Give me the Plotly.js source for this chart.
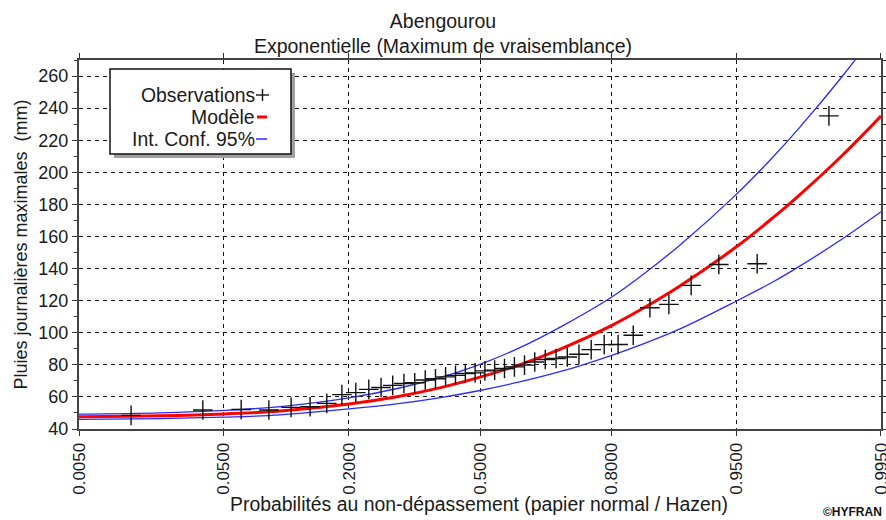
<!DOCTYPE html>
<html>
<head>
<meta charset="utf-8">
<script src="https://cdn.plot.ly/plotly-3.0.1.min.js"></script>
<style>html,body{margin:0;padding:0;background:#fff;}#chart{width:886px;height:520px;}</style>
</head>
<body>
<div id="chart"></div>
<script>
// ---- Data ----
const tickProbs = [0.005, 0.05, 0.2, 0.5, 0.8, 0.95, 0.995];
const tickLabels = ["0.0050", "0.0500", "0.2000", "0.5000", "0.8000", "0.9500", "0.9950"];

// Observations (Hazen plotting positions, n = 40)
const obsProb = [0.0125,0.0375,0.0625,0.0875,0.1125,0.1375,0.1625,0.1875,0.2125,0.2375,
                 0.2625,0.2875,0.3125,0.3375,0.3625,0.3875,0.4125,0.4375,0.4625,0.4875,
                 0.5125,0.5375,0.5625,0.5875,0.6125,0.6375,0.6625,0.6875,0.7125,0.7375,
                 0.7625,0.7875,0.8125,0.8375,0.8625,0.8875,0.9125,0.9375,0.9625,0.9875];
const obsValue = [48.5,51.8,52.2,51.8,53.5,53.9,56.0,61.4,62.7,64.7,
                  65.9,67.2,68.4,68.8,70.5,71.3,72.5,73.4,74.6,75.0,
                  76.2,76.7,77.7,78.7,79.8,81.8,83.3,83.9,84.9,86.6,
                  89.5,92.6,92.7,98.4,115.6,117.7,129.5,142.5,143.0,235.2];

// Fitted model and 95% confidence band
const curveProb  = [0.005,0.02,0.05,0.1,0.2,0.3,0.4,0.5,0.6,0.7,0.8,0.85,0.9,0.95,0.97,0.98,0.99,0.995];
const modelValue = [47.7,48.2,49.3,51.2,55.6,60.3,65.8,72.3,80.0,90.1,104.3,114.6,129.0,153.4,171.6,186.0,210.5,235.1];
const upperValue = [49.3,50.1,51.6,54.0,59.4,65.4,72.2,80.3,90.6,104.0,122.0,135.5,154.4,186.1,209.4,228.0,259.7,291.3];
const lowerValue = [46.0,46.5,47.4,48.8,52.5,55.8,59.6,64.0,69.3,76.0,85.8,92.6,102.2,119.6,131.6,141.5,158.4,175.4];

// ---- Normal probability paper transform (inverse standard normal CDF) ----
function probit(p) {
  const a=[-3.969683028665376e+01,2.209460984245205e+02,-2.759285104469687e+02,1.383577518672690e+02,-3.066479806614716e+01,2.506628277459239e+00];
  const b=[-5.447609879822406e+01,1.615858368580409e+02,-1.556989798598866e+02,6.680131188771972e+01,-1.328068155288572e+01];
  const c=[-7.784894002430293e-03,-3.223964580411365e-01,-2.400758277161838e+00,-2.549732539343734e+00,4.374664141464968e+00,2.938163982698783e+00];
  const d=[7.784695709041462e-03,3.224671290700398e-01,2.445134137142996e+00,3.754408661907416e+00];
  const pl=0.02425, ph=1-pl;
  let q, r;
  if (p < pl) { q=Math.sqrt(-2*Math.log(p)); return (((((c[0]*q+c[1])*q+c[2])*q+c[3])*q+c[4])*q+c[5])/((((d[0]*q+d[1])*q+d[2])*q+d[3])*q+1); }
  if (p <= ph) { q=p-0.5; r=q*q; return (((((a[0]*r+a[1])*r+a[2])*r+a[3])*r+a[4])*r+a[5])*q/(((((b[0]*r+b[1])*r+b[2])*r+b[3])*r+b[4])*r+1); }
  q=Math.sqrt(-2*Math.log(1-p)); return -(((((c[0]*q+c[1])*q+c[2])*q+c[3])*q+c[4])*q+c[5])/((((d[0]*q+d[1])*q+d[2])*q+d[3])*q+1);
}
const zs = arr => arr.map(probit);

const FONT = "Liberation Sans, Arial, sans-serif";
const TXT = "#1a1a1a";

const traces = [
  { x: zs(curveProb), y: upperValue, mode: "lines", line: {color: "#2a2aff", width: 1.3, shape: "spline"}, hoverinfo: "skip", showlegend: false },
  { x: zs(curveProb), y: lowerValue, mode: "lines", line: {color: "#2a2aff", width: 1.3, shape: "spline"}, hoverinfo: "skip", showlegend: false },
  { x: zs(curveProb), y: modelValue, mode: "lines", line: {color: "#ff0000", width: 3, shape: "spline"}, hoverinfo: "skip", showlegend: false },
  { x: zs(obsProb), y: obsValue, mode: "markers", marker: {symbol: "cross-thin", size: 14, line: {color: "#111", width: 1.4}}, cliponaxis: false, showlegend: false }
];

// pixel -> paper helpers for the legend box (plot area: x 79..881, y 60..429)
const px = v => (v - 79) / 802;
const py = v => (429 - v) / 369;

const shapes = [
  {type: "rect", xref: "paper", yref: "paper", x0: px(114), x1: px(295), y0: py(158), y1: py(73), fillcolor: "#a0a0a0", line: {width: 0}, layer: "above"},
  {type: "rect", xref: "paper", yref: "paper", x0: px(110), x1: px(291), y0: py(154), y1: py(69), fillcolor: "#ffffff", line: {color: "#111", width: 1.5}, layer: "above"},
  {type: "line", xref: "paper", yref: "paper", x0: px(256), x1: px(269), y0: py(95), y1: py(95), line: {color: "#111", width: 1.4}, layer: "above"},
  {type: "line", xref: "paper", yref: "paper", x0: px(262.5), x1: px(262.5), y0: py(89), y1: py(101), line: {color: "#111", width: 1.4}, layer: "above"},
  {type: "line", xref: "paper", yref: "paper", x0: px(257), x1: px(267), y0: py(117), y1: py(117), line: {color: "#ff0000", width: 3}, layer: "above"},
  {type: "line", xref: "paper", yref: "paper", x0: px(256), x1: px(267), y0: py(139), y1: py(139), line: {color: "#2a2aff", width: 1.5}, layer: "above"}
];

const LEG = 19.4;
const annotations = [
  {text: "Observations", xref: "paper", yref: "paper", x: px(257), y: py(95), xanchor: "right", yanchor: "middle", showarrow: false, font: {family: FONT, size: LEG, color: TXT}},
  {text: "Modèle", xref: "paper", yref: "paper", x: px(257), y: py(117), xanchor: "right", yanchor: "middle", showarrow: false, font: {family: FONT, size: LEG, color: TXT}},
  {text: "Int. Conf. 95%", xref: "paper", yref: "paper", x: px(257), y: py(139), xanchor: "right", yanchor: "middle", showarrow: false, font: {family: FONT, size: LEG, color: TXT}},
  {text: "Probabilités au non-dépassement (papier normal / Hazen)", xref: "paper", yref: "paper", x: px(479), y: py(504), xanchor: "center", yanchor: "middle", showarrow: false, font: {family: FONT, size: 19.4, color: TXT}},
  {text: "<b>©HYFRAN</b>", xref: "paper", yref: "paper", x: px(884), y: py(512), xanchor: "right", yanchor: "middle", showarrow: false, font: {family: FONT, size: 12, color: "#111"}}
];

const layout = {
  width: 886, height: 520,
  margin: {l: 79, r: 5, t: 60, b: 91, pad: 0},
  paper_bgcolor: "#fff", plot_bgcolor: "#fff",
  font: {family: FONT, color: TXT, size: 18},
  title: {text: "Abengourou<br>Exponentielle (Maximum de vraisemblance)", x: 0.5, xref: "container", xanchor: "center",
          y: 0.946, yref: "container", yanchor: "top", font: {family: FONT, size: 19.5, color: TXT}},
  xaxis: {
    range: [probit(0.005) - 1e-4, probit(0.995) + 1e-4], tickvals: zs(tickProbs), ticktext: tickLabels, tickangle: -90,
    ticklabeloverflow: "allow",
    ticks: "outside", ticklen: 5, tickcolor: "#333", showgrid: true, gridcolor: "#111", griddash: "4px,4px", gridwidth: 1,
    showline: true, linecolor: "#444", linewidth: 2, mirror: "ticks", zeroline: false,
    tickfont: {family: FONT, size: 17, color: TXT},
    automargin: false
  },
  yaxis: {
    range: [40, 270], tickvals: [40,60,80,100,120,140,160,180,200,220,240,260],
    ticks: "outside", ticklen: 5, tickcolor: "#333", showgrid: true, gridcolor: "#111", griddash: "4px,4px", gridwidth: 1,
    minor: {dtick: 10, ticks: "outside", ticklen: 3, tickcolor: "#333", showgrid: false},
    showline: true, linecolor: "#444", linewidth: 2, mirror: "ticks", zeroline: false,
    tickfont: {family: FONT, size: 18, color: TXT},
    title: {text: "Pluies journalières maximales  (mm)", font: {family: FONT, size: 18, color: TXT}, standoff: 6},
    automargin: false
  },
  shapes: shapes,
  annotations: annotations,
  showlegend: false
};

Plotly.newPlot("chart", traces, layout, {displayModeBar: false, staticPlot: true});
</script>
</body>
</html>
